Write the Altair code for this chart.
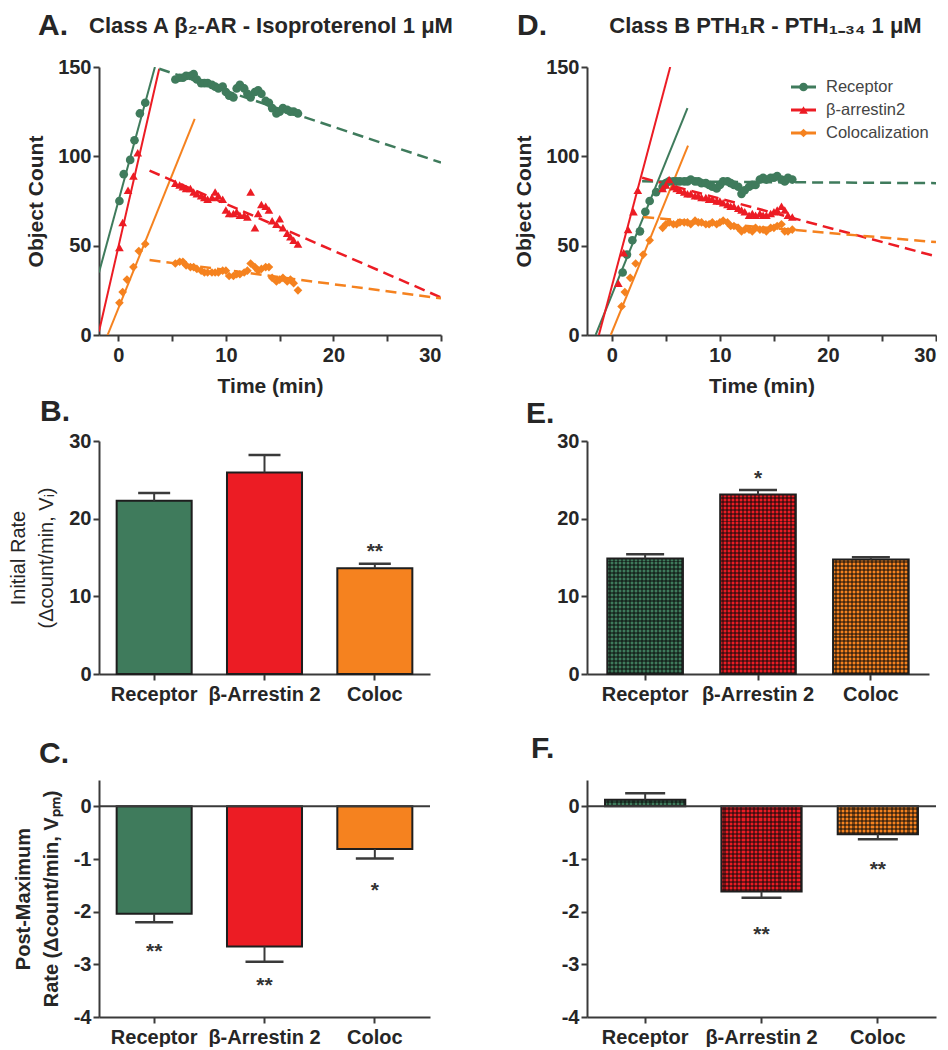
import altair as alt
import pandas as pd

FONT = "Liberation Sans, Arial, Helvetica, sans-serif"
INK = "#262626"
AXIS = "#3a3a3a"

SERIES = ["Receptor", "β-arrestin2", "Colocalization"]
SERIES_COLORS = ["#3f7b5c", "#ec1c24", "#f5821f"]
SERIES_SHAPES = ["circle", "triangle-up", "diamond"]

# ---------------- Panel A: class A beta2-AR kinetics ----------------
A_rec_early_t = [0.1, 0.5, 1.1, 1.5, 2.0, 2.5]
A_rec_early_y = [75, 90, 98, 109, 124, 130]
A_arr_early_t = [0.1, 0.4, 0.9, 1.4, 1.8]
A_arr_early_y = [49, 63, 81, 89, 102]
A_col_early_t = [0.1, 0.4, 0.8, 1.4, 1.9, 2.5]
A_col_early_y = [18, 24, 31, 38, 47, 51]
A_late_t = [5.3, 5.7, 6.0, 6.3, 6.7, 7.0, 7.3, 7.7, 8.0, 8.3,
            8.7, 9.0, 9.3, 9.7, 10.0, 10.3, 10.7, 11.0, 11.3, 11.7,
            12.0, 12.3, 12.7, 13.0, 13.3, 13.7, 14.0, 14.3, 14.7, 15.0,
            15.3, 15.7, 16.0, 16.3, 16.7]
A_rec_late_y = [143, 144, 144, 145, 145, 146, 143, 141, 141, 141,
                140, 139, 138, 139, 136, 134, 133, 138, 140, 138,
                135, 133, 136, 137, 135, 131, 130, 127, 124, 125,
                127, 126, 125, 125, 124]
A_arr_late_y = [85, 84, 83, 82, 82, 80, 79, 78, 77, 76,
                77, 80, 78, 76, 70, 68, 68, 69, 67, 67,
                66, 80, 60, 68, 73, 72, 70, 64, 62, 65,
                60, 57, 55, 53, 51]
A_col_late_y = [40, 41, 41, 39, 38, 38, 37, 36, 35, 35,
                35, 35, 35, 36, 36, 33, 33, 34, 34, 35,
                36, 40, 38, 36, 37, 38, 38, 32, 30, 31,
                32, 30, 31, 29, 25]
# fitted lines (Receptor, beta-arrestin2, Colocalization)
A_init_t0 = [-1.8, -1.8, -1.0]
A_init_y0 = [35, 2, 0]
A_init_t1 = [3.4, 3.8, 7.1]
A_init_y1 = [150, 149, 121]
A_post_t0 = [3.8, 2.9, 2.9]
A_post_y0 = [149, 92, 42]
A_post_t1 = [30, 30, 30]
A_post_y1 = [96.5, 21, 20.5]

# ---------------- Panel D: class B PTH1R kinetics ----------------
D_rec_early_t = [1.0, 1.4, 1.9, 2.6, 3.1, 3.5, 4.1]
D_rec_early_y = [35, 45, 53, 58, 69, 75, 80]
D_arr_early_t = [0.6, 1.1, 1.5, 2.0, 2.4]
D_arr_early_y = [29, 46, 59, 69, 81]
D_col_early_t = [0.9, 1.2, 1.7, 2.2, 2.9, 3.5]
D_col_early_y = [16, 24, 32, 40, 45, 53]
D_late_t = [4.7, 5.0, 5.3, 5.7, 6.0, 6.3, 6.7, 7.0, 7.3, 7.7,
            8.0, 8.3, 8.7, 9.0, 9.3, 9.7, 10.0, 10.3, 10.7, 11.0,
            11.3, 11.7, 12.0, 12.3, 12.7, 13.0, 13.3, 13.7, 14.0, 14.3,
            14.7, 15.0, 15.3, 15.7, 16.0, 16.3, 16.7]
D_rec_late_y = [83, 85, 86, 86, 86, 86, 86, 86, 87, 86,
                86, 85, 85, 84, 83, 82, 84, 86, 86, 85,
                84, 83, 79, 81, 83, 84, 84, 87, 88, 87,
                88, 88, 89, 87, 86, 88, 87]
D_arr_late_y = [82, 84, 87, 83, 82, 81, 80, 79, 79, 78,
                78, 77, 77, 76, 76, 75, 75, 74, 73, 72,
                72, 71, 70, 69, 67, 68, 67, 68, 67, 67,
                68, 69, 70, 72, 70, 67, 66]
D_col_late_y = [60, 62, 63, 62, 62, 63, 63, 63, 62, 64,
                63, 63, 62, 62, 63, 62, 63, 64, 63, 61,
                61, 60, 58, 59, 59, 58, 60, 59, 59, 58,
                60, 60, 61, 62, 58, 58, 59]
D_init_t0 = [-1.5, -1.2, -0.1]
D_init_y0 = [0, 0, 0]
D_init_t1 = [7.0, 5.4, 7.05]
D_init_y1 = [127, 150, 106]
D_post_t0 = [2.8, 2.8, 2.9]
D_post_y0 = [86, 88, 66]
D_post_t1 = [30, 30, 30]
D_post_y1 = [85, 44, 52]

# ---------------- Bar panels ----------------
BAR_CATS = ["Receptor", "β-Arrestin 2", "Coloc"]
B_mean = [22.3, 25.95, 13.6]
B_err = [1.0, 2.25, 0.6]
B_star = ["", "", "**"]
B_star_at = [None, None, 16.3]

E_mean = [14.87, 23.1, 14.74]
E_err = [0.55, 0.6, 0.3]
E_star = ["", "*", ""]
E_star_at = [None, 25.7, None]

C_mean = [-2.04, -2.66, -0.81]
C_err = [0.16, 0.29, 0.18]
C_star = ["**", "**", "*"]
C_star_at = [-2.67, -3.31, -1.52]

F_mean = [0.126, -1.615, -0.53]
F_err = [0.124, 0.12, 0.095]
F_star = ["", "**", "**"]
F_star_at = [None, -2.35, -1.11]

HEX = dict(zip(SERIES, SERIES_COLORS))


def point_rows(series, ts, ys):
    return [dict(series=series, hex=HEX[series], t=t, y=y) for t, y in zip(ts, ys)]


def fit_rows(kind, t0s, y0s, t1s, y1s):
    rows = []
    for s, t0, y0, t1, y1 in zip(SERIES, t0s, y0s, t1s, y1s):
        rows.append(dict(series=s, hex=HEX[s], kind=kind, t=t0, y=y0))
        rows.append(dict(series=s, hex=HEX[s], kind=kind, t=t1, y=y1))
    return rows


def text_layer(txt, dx, dy, size, align="left", baseline="top"):
    return alt.Chart(pd.DataFrame({"lab": [txt]})).mark_text(
        align=align, baseline=baseline, fontSize=size, fontWeight="bold", font=FONT, color=INK
    ).encode(x=alt.value(dx), y=alt.value(dy), text="lab:N")


color_enc = alt.Color("hex:N", scale=None, legend=None)
shape_enc = alt.Shape("series:N", scale=alt.Scale(domain=SERIES, range=SERIES_SHAPES), legend=None)


def kinetic_panel(pts, fits, xdom, width, height, title, title_dx, letter, lpos, with_legend=False):
    x = alt.X("t:Q", scale=alt.Scale(domain=xdom, nice=False, zero=False),
              axis=alt.Axis(values=[0, 5, 10, 15, 20, 25, 30],
                            labelExpr="datum.value % 10 === 0 ? datum.label : ''",
                            title="Time (min)", titlePadding=10, labelPadding=4))
    y = alt.Y("y:Q", scale=alt.Scale(domain=[0, 150], nice=False),
              axis=alt.Axis(values=[0, 50, 100, 150], title="Object Count",
                            titlePadding=11, labelPadding=2))
    fit_base = alt.Chart(pd.DataFrame(fits))
    solid = fit_base.transform_filter("datum.kind === 'initial'").mark_line(
        strokeWidth=2, clip=True).encode(x=x, y=y, color=color_enc, detail="series:N")
    dashed = fit_base.transform_filter("datum.kind === 'post'").mark_line(
        strokeWidth=2.5, strokeDash=[11, 6], clip=True).encode(x=x, y=y, color=color_enc, detail="series:N")
    points = alt.Chart(pd.DataFrame(pts)).mark_point(filled=True, size=75, opacity=1).encode(
        x=x, y=y, color=color_enc, shape=shape_enc)
    main = alt.layer(solid, dashed, points,
                     text_layer(letter, *lpos, 30),
                     text_layer(title, width / 2 + title_dx, -34, 22, align="center", baseline="alphabetic"))
    if with_legend:
        leg = alt.Chart(pd.DataFrame({"series": SERIES, "hex": SERIES_COLORS}))
        ly = alt.Y("series:N", scale=alt.Scale(type="point", domain=SERIES, range=[20, 66], padding=0), axis=None)
        leg_line = leg.mark_rule(strokeWidth=3).encode(x=alt.value(204), x2=alt.value(229), y=ly, color=color_enc)
        leg_pt = leg.mark_point(filled=True, size=75, opacity=1).encode(x=alt.value(216.5), y=ly, color=color_enc, shape=shape_enc)
        leg_txt = leg.mark_text(align="left", baseline="middle", fontSize=16.5, font=FONT, color="#444").encode(
            x=alt.value(239), y=ly, text="series:N")
        main = alt.layer(main, alt.layer(leg_line, leg_pt, leg_txt)).resolve_scale(y="independent")
    return main.properties(width=width, height=height)


def stripes(n, vertical):
    dark = "rgba(10,10,10,0.5)"
    clear = "rgba(10,10,10,0)"
    stops = []
    for i in range(n):
        a, m, b = i / n, (i + 0.5) / n, (i + 1) / n
        stops += [alt.GradientStop(offset=a, color=clear), alt.GradientStop(offset=m, color=clear),
                  alt.GradientStop(offset=m, color=dark), alt.GradientStop(offset=b, color=dark)]
    if vertical:
        return alt.LinearGradient(gradient="linear", stops=stops, x1=0, x2=0, y1=0, y2=1)
    return alt.LinearGradient(gradient="linear", stops=stops, x1=0, x2=1, y1=0, y2=0)


def bar_panel(means, errs, stars, star_at, ydom, yvals, width, height, pad_in, pad_out,
              cap_len, ytitle, ytitle_weight, patterned, letter, lpos, zero_rule):
    caps = [m + (e if m >= 0 else -e) for m, e in zip(means, errs)]
    df = pd.DataFrame({"cat": BAR_CATS, "hex": SERIES_COLORS, "mean": means, "cap": caps,
                       "star": stars, "star_at": star_at})
    x = alt.X("cat:N", sort=BAR_CATS,
              scale=alt.Scale(domain=BAR_CATS, paddingInner=pad_in, paddingOuter=pad_out),
              axis=alt.Axis(title=None, labelAngle=0, labelPadding=4))
    axis_kw = dict(values=yvals,
                   labelExpr="datum.value < 0 ? '-' + abs(datum.value) : '' + datum.value",
                   labelPadding=2)
    if ytitle is not None:
        axis_kw.update(title=ytitle, titleFontWeight=ytitle_weight, titleFontSize=20,
                       titleLineHeight=28, titlePadding=12)
    else:
        axis_kw.update(title=None)
    yscale = alt.Scale(domain=ydom, nice=False, zero=False)

    def yenc(field):
        return alt.Y(f"{field}:Q", scale=yscale, axis=alt.Axis(**axis_kw))

    base = alt.Chart(df)
    layers = [base.mark_bar().encode(x=x, y=yenc("mean"), y2=alt.datum(0), color=color_enc)]
    if patterned:
        layers.append(base.mark_bar(fill=stripes(19, False), strokeWidth=0).encode(
            x=x, y=yenc("mean"), y2=alt.datum(0)))
        span = ydom[1] - ydom[0]
        for cat, m in zip(BAR_CATS, means):
            n = max(1, round(abs(m) / span * height / 4.0))
            layers.append(base.transform_filter(alt.datum.cat == cat).mark_bar(
                fill=stripes(n, True), strokeWidth=0).encode(x=x, y=yenc("mean"), y2=alt.datum(0)))
    layers.append(base.mark_bar(fillOpacity=0, stroke="#1e1e1e", strokeWidth=2).encode(
        x=x, y=yenc("mean"), y2=alt.datum(0)))
    if zero_rule:
        layers.append(alt.Chart(pd.DataFrame({"z": [0]})).mark_rule(color=AXIS, strokeWidth=2).encode(
            y=alt.datum(0)))
    layers.append(base.mark_rule(color=AXIS, strokeWidth=2).encode(x=x, y=yenc("mean"), y2="cap:Q"))
    layers.append(base.mark_tick(size=cap_len, thickness=2.5, color=AXIS, opacity=1).encode(x=x, y=yenc("cap")))
    layers.append(base.transform_filter("datum.star != ''").mark_text(
        fontSize=21, fontWeight="bold", font=FONT, color="#333", baseline="alphabetic", dy=11).encode(
        x=x, y=yenc("star_at"), text="star:N"))
    layers.append(text_layer(letter, *lpos, 30))
    return alt.layer(*layers).properties(width=width, height=height)


A_pts = (point_rows("Receptor", A_rec_early_t + A_late_t, A_rec_early_y + A_rec_late_y)
         + point_rows("β-arrestin2", A_arr_early_t + A_late_t, A_arr_early_y + A_arr_late_y)
         + point_rows("Colocalization", A_col_early_t + A_late_t, A_col_early_y + A_col_late_y))
A_fits = (fit_rows("initial", A_init_t0, A_init_y0, A_init_t1, A_init_y1)
          + fit_rows("post", A_post_t0, A_post_y0, A_post_t1, A_post_y1))
D_pts = (point_rows("Receptor", D_rec_early_t + D_late_t, D_rec_early_y + D_rec_late_y)
         + point_rows("β-arrestin2", D_arr_early_t + D_late_t, D_arr_early_y + D_arr_late_y)
         + point_rows("Colocalization", D_col_early_t + D_late_t, D_col_early_y + D_col_late_y))
D_fits = (fit_rows("initial", D_init_t0, D_init_y0, D_init_t1, D_init_y1)
          + fit_rows("post", D_post_t0, D_post_y0, D_post_t1, D_post_y1))

panel_A = kinetic_panel(A_pts, A_fits, [-1.8, 30], 342, 268,
                        "Class A β₂-AR -  Isoproterenol 1 μM", 1, "A.", (-61, -56))
panel_D = kinetic_panel(D_pts, D_fits, [-2.3, 30], 349, 268,
                        "Class B PTH₁R - PTH₁₋₃₄ 1 μM", 4, "D.", (-70, -56), with_legend=True)
panel_B = bar_panel(B_mean, B_err, B_star, B_star_at, [0, 30], [0, 10, 20, 30], 331, 233, 0.32, 0.16,
                    32, ["Initial Rate", "(Δcount/min, Vᵢ)"], "normal", False, "B.", (-59, -44), False)
panel_E = bar_panel(E_mean, E_err, E_star, E_star_at, [0, 30], [0, 10, 20, 30], 342, 233, 0.33, 0.18,
                    38, None, "bold", True, "E.", (-61, -42), False)
panel_C = bar_panel(C_mean, C_err, C_star, C_star_at, [-4, 0.5], [0, -1, -2, -3, -4], 331, 237, 0.32, 0.16,
                    38, ["Post-Maximum", "Rate (Δcount/min, Vₚₘ)"], "bold", False, "C.", (-60, -41), True)
panel_F = bar_panel(F_mean, F_err, F_star, F_star_at, [-4, 0.5], [0, -1, -2, -3, -4], 349, 237, 0.31, 0.155,
                    40, None, "bold", True, "F.", (-56, -46), True)

chart = alt.concat(
    panel_A, panel_D, panel_B, panel_E, panel_C, panel_F,
    columns=2, spacing={"row": 106, "column": 146}, bounds="flush", align="each",
    padding={"top": 3, "left": 0, "right": 0, "bottom": 0},
).configure_view(stroke=None).configure_axis(
    labelFont=FONT, titleFont=FONT, labelFontSize=20, labelFontWeight="bold", labelColor=INK,
    titleFontSize=21, titleFontWeight="bold", titleColor=INK,
    domainColor=AXIS, domainWidth=2, tickColor=AXIS, tickWidth=2, tickSize=6, grid=False,
)

chart.save("out.html", embed_options={"renderer": "svg", "actions": False})
